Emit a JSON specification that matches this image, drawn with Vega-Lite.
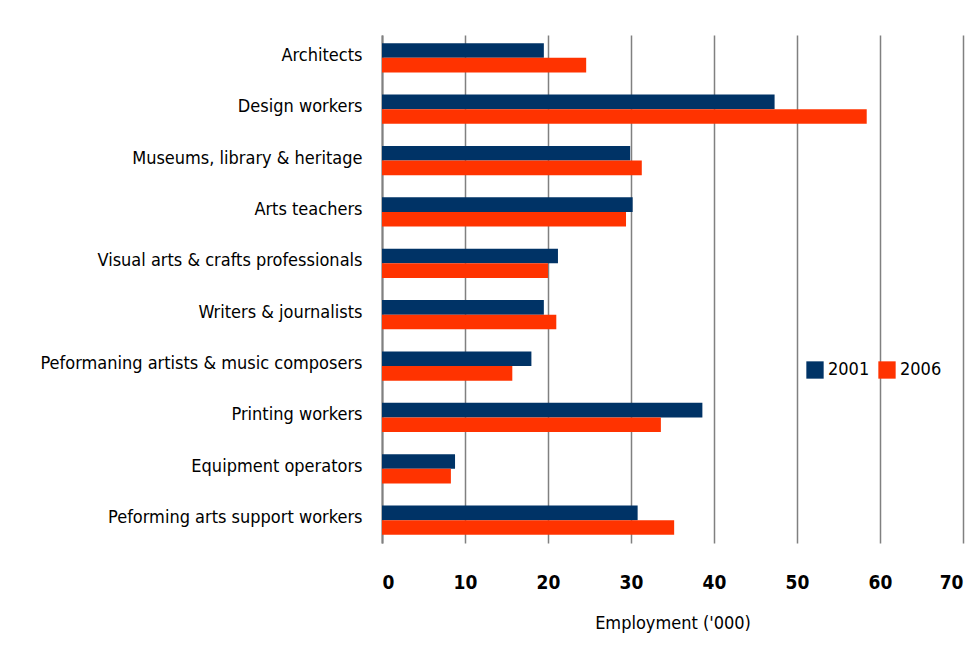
{
  "$schema": "https://vega.github.io/schema/vega-lite/v6.json",
  "autosize": {"type": "none"},
  "width": 581,
  "height": 508,
  "padding": {"left": 382, "top": 35, "right": 13, "bottom": 114},
  "background": "white",
  "data": {"values": [
    {"occupation": "Architects", "year": "2001", "employment": 19.5},
    {"occupation": "Architects", "year": "2006", "employment": 24.6},
    {"occupation": "Design workers", "year": "2001", "employment": 47.3},
    {"occupation": "Design workers", "year": "2006", "employment": 58.4},
    {"occupation": "Museums, library & heritage", "year": "2001", "employment": 29.9},
    {"occupation": "Museums, library & heritage", "year": "2006", "employment": 31.3},
    {"occupation": "Arts teachers", "year": "2001", "employment": 30.2},
    {"occupation": "Arts teachers", "year": "2006", "employment": 29.4},
    {"occupation": "Visual arts & crafts professionals", "year": "2001", "employment": 21.2},
    {"occupation": "Visual arts & crafts professionals", "year": "2006", "employment": 20.0},
    {"occupation": "Writers & journalists", "year": "2001", "employment": 19.5},
    {"occupation": "Writers & journalists", "year": "2006", "employment": 21.0},
    {"occupation": "Peformaning artists & music composers", "year": "2001", "employment": 18.0},
    {"occupation": "Peformaning artists & music composers", "year": "2006", "employment": 15.7},
    {"occupation": "Printing workers", "year": "2001", "employment": 38.6},
    {"occupation": "Printing workers", "year": "2006", "employment": 33.6},
    {"occupation": "Equipment operators", "year": "2001", "employment": 8.8},
    {"occupation": "Equipment operators", "year": "2006", "employment": 8.3},
    {"occupation": "Peforming arts support workers", "year": "2001", "employment": 30.8},
    {"occupation": "Peforming arts support workers", "year": "2006", "employment": 35.2}
  ]},
  "mark": {"type": "bar"},
  "encoding": {
    "y": {
      "field": "occupation",
      "type": "nominal",
      "sort": null,
      "scale": {"paddingInner": 0.43, "paddingOuter": 0.16},
      "axis": {
        "title": null,
        "ticks": false,
        "grid": false,
        "domainColor": "#808080",
        "domainWidth": 2,
        "labelPadding": 20,
        "labelBaseline": "middle",
        "labelOffset": -2,
        "labelFont": "DejaVu Sans Condensed",
        "labelFontSize": 18,
        "labelColor": "#000000",
        "labelLimit": 400
      }
    },
    "yOffset": {"field": "year", "type": "nominal"},
    "x": {
      "field": "employment",
      "type": "quantitative",
      "scale": {"domain": [0, 70], "nice": false},
      "axis": {
        "values": [0, 10, 20, 30, 40, 50, 60, 70],
        "title": "Employment ('000)",
        "titleFont": "DejaVu Sans Condensed",
        "titleFontSize": 18,
        "titleFontWeight": "normal",
        "titleColor": "#000000",
        "titlePadding": 22,
        "labelFont": "DejaVu Sans Condensed",
        "labelFontSize": 19,
        "labelFontWeight": "bold",
        "labelColor": "#000000",
        "labelPadding": 30,
        "domain": false,
        "ticks": false,
        "grid": true,
        "gridColor": "#808080",
        "gridWidth": 1.5
      }
    },
    "color": {
      "field": "year",
      "type": "nominal",
      "scale": {"domain": ["2001", "2006"], "range": ["#003366", "#FF3300"]},
      "legend": {
        "title": null,
        "orient": "none",
        "legendX": 424,
        "legendY": 326,
        "direction": "horizontal",
        "symbolType": "square",
        "symbolSize": 300,
        "symbolStrokeWidth": 0,
        "labelFont": "DejaVu Sans Condensed",
        "labelFontSize": 18,
        "labelColor": "#000000",
        "columnPadding": 8,
        "labelOffset": 4
      }
    }
  },
  "config": {"view": {"stroke": null}}
}
